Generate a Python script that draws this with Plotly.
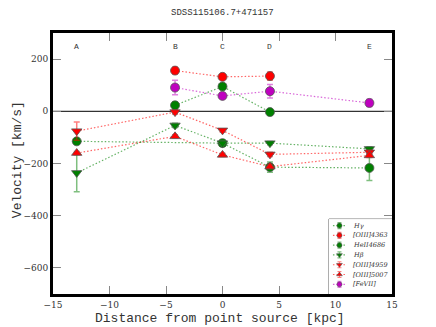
import plotly.graph_objects as go

title = "SDSS115106.7+471157"
xlabel = "Distance from point source [kpc]"
ylabel = "Velocity [km/s]"

# region positions
region_labels = ["A", "B", "C", "D", "E"]
region_x = [-12.9, -4.2, 0.0, 4.2, 13.0]
label_y = 250

# series: x, y, error
hg_x = [-12.9, 0.0, 4.2, 13.0]
hg_y = [-115, -122, -214, -217]
hg_e = [0, 10, 20, 48]

o4363_x = [-4.2, 0.0, 4.2]
o4363_y = [156, 132, 135]
o4363_e = [13, 8, 16]

he2_x = [-4.2, 0.0, 4.2]
he2_y = [23, 95, -3]
he2_e = [14, 8, 8]

hb_x = [-12.9, -4.2, 0.0, 4.2, 13.0]
hb_y = [-236, -54, -122, -122, -144]
hb_e = [72, 8, 12, 6, 8]

o4959_x = [-12.9, -4.2, 0.0, 4.2, 13.0]
o4959_y = [-76, -3, -73, -165, -157]
o4959_e = [35, 8, 6, 8, 8]

o5007_x = [-12.9, -4.2, 0.0, 4.2, 13.0]
o5007_y = [-160, -96, -167, -212, -169]
o5007_e = [6, 6, 6, 8, 8]

fe7_x = [-4.2, 0.0, 4.2, 13.0]
fe7_y = [91, 59, 77, 32]
fe7_e = [28, 12, 26, 14]

series_names = ["H\u03b3", "[OIII]4363", "HeII4686", "H\u03b2", "[OIII]4959", "[OIII]5007", "[FeVII]"]

x_ticks = [-15, -10, -5, 0, 5, 10, 15]
y_ticks = [-600, -400, -200, 0, 200]

GREEN = "#008000"
RED = "#ff0000"
MAG = "#bf00bf"

series = [
    (hg_x, hg_y, hg_e, GREEN, "circle"),
    (o4363_x, o4363_y, o4363_e, RED, "circle"),
    (he2_x, he2_y, he2_e, GREEN, "circle"),
    (hb_x, hb_y, hb_e, GREEN, "triangle-down"),
    (o4959_x, o4959_y, o4959_e, RED, "triangle-down"),
    (o5007_x, o5007_y, o5007_e, RED, "triangle-up"),
    (fe7_x, fe7_y, fe7_e, MAG, "circle"),
]

def rgba(hexc, a):
    h = hexc.lstrip("#")
    r, g, b = int(h[0:2], 16), int(h[2:4], 16), int(h[4:6], 16)
    return f"rgba({r},{g},{b},{a})"

DOT = "1.5px,2px"

fig = go.Figure()
for name, (xs, ys, es, col, sym) in zip(series_names, series):
    fig.add_trace(go.Scatter(
        x=xs, y=ys, name=name, mode="lines+markers", showlegend=False,
        line=dict(color=rgba(col, 0.6), width=1.2, dash=DOT),
        marker=dict(color=col, symbol=sym, size=9,
                    line=dict(color="#555555", width=0.8)),
        error_y=dict(type="data", array=es, visible=True,
                     color=rgba(col, 0.5), thickness=1.5, width=3),
    ))

# compact matplotlib-style legend on an auxiliary axis pair
LEG_ROW0, LEG_DY = 6.5, 9.8
for i, (name, (xs, ys, es, col, sym)) in enumerate(zip(series_names, series)):
    yc = LEG_ROW0 + LEG_DY * i
    fig.add_trace(go.Scatter(
        x=[4, 17], y=[yc, yc], mode="lines", showlegend=False, hoverinfo="skip",
        xaxis="x2", yaxis="y2",
        line=dict(color=rgba(col, 0.6), width=1.2, dash=DOT)))
    fig.add_trace(go.Scatter(
        x=[10.5], y=[yc], mode="markers", showlegend=False, hoverinfo="skip",
        xaxis="x2", yaxis="y2",
        marker=dict(color=col, symbol=sym, size=5, line=dict(color="#555555", width=0.6)),
        error_y=dict(type="constant", value=3, color=rgba(col, 0.5), thickness=1.2, width=2)))
    fig.add_annotation(x=22, y=yc, xref="x2", yref="y2", text=f"<i>{name}</i>",
                       showarrow=False, xanchor="left", yanchor="middle",
                       font=dict(family="DejaVu Serif", size=6.5, color="#333333"))

fig.add_shape(type="rect", xref="x2 domain", yref="y2 domain", x0=0, x1=1, y0=0, y1=1,
              line=dict(color="#666666", width=1), fillcolor="white", layer="below")

for lab, xv in zip(region_labels, region_x):
    fig.add_annotation(x=xv, y=label_y, text=lab, showarrow=False,
                       font=dict(family="Liberation Mono", size=8, color="#333333"))

fig.add_shape(type="line", x0=-15, x1=15, y0=0, y1=0, xref="x", yref="y",
              line=dict(color="black", width=1), layer="below")

# axis titles
fig.add_annotation(text=xlabel, xref="paper", yref="paper", x=0.493, y=-0.094,
                   showarrow=False, xanchor="center", yanchor="middle",
                   font=dict(family="Liberation Mono", size=13, color="#333333"))
fig.add_annotation(text=ylabel, xref="paper", yref="paper", x=-0.106, y=0.513,
                   showarrow=False, xanchor="center", yanchor="middle", textangle=-90,
                   font=dict(family="Liberation Mono", size=13, color="#333333"))

axis_common = dict(ticks="inside", ticklen=8, tickcolor="#888888", tickwidth=1,
                   showline=True, linecolor="black", linewidth=3, mirror="ticks",
                   showgrid=False, zeroline=False, automargin=False,
                   tickfont=dict(family="DejaVu Serif", size=9, color="#333333"))

fig.update_layout(
    width=436, height=327,
    margin=dict(l=53, r=44, t=33, b=33),
    paper_bgcolor="white", plot_bgcolor="white",
    title=dict(text=title, x=0.51, xanchor="center", y=0.963, yanchor="middle",
               font=dict(family="Liberation Mono", size=9, color="#333333")),
    showlegend=False,
    xaxis=dict(range=[-15, 15], tickmode="array", tickvals=x_ticks, **axis_common),
    yaxis=dict(range=[-700, 300], tickmode="array", tickvals=y_ticks, **axis_common),
    xaxis2=dict(domain=[0.814, 1.0], range=[0, 63], anchor="y2", visible=False, fixedrange=True),
    yaxis2=dict(domain=[0.0, 0.287], range=[75, 0], anchor="x2", visible=False, fixedrange=True),
)

fig.write_html("out.html", config={"displayModeBar": False},
               post_script="document.body.style.margin='0px';document.body.style.overflow='hidden';")
